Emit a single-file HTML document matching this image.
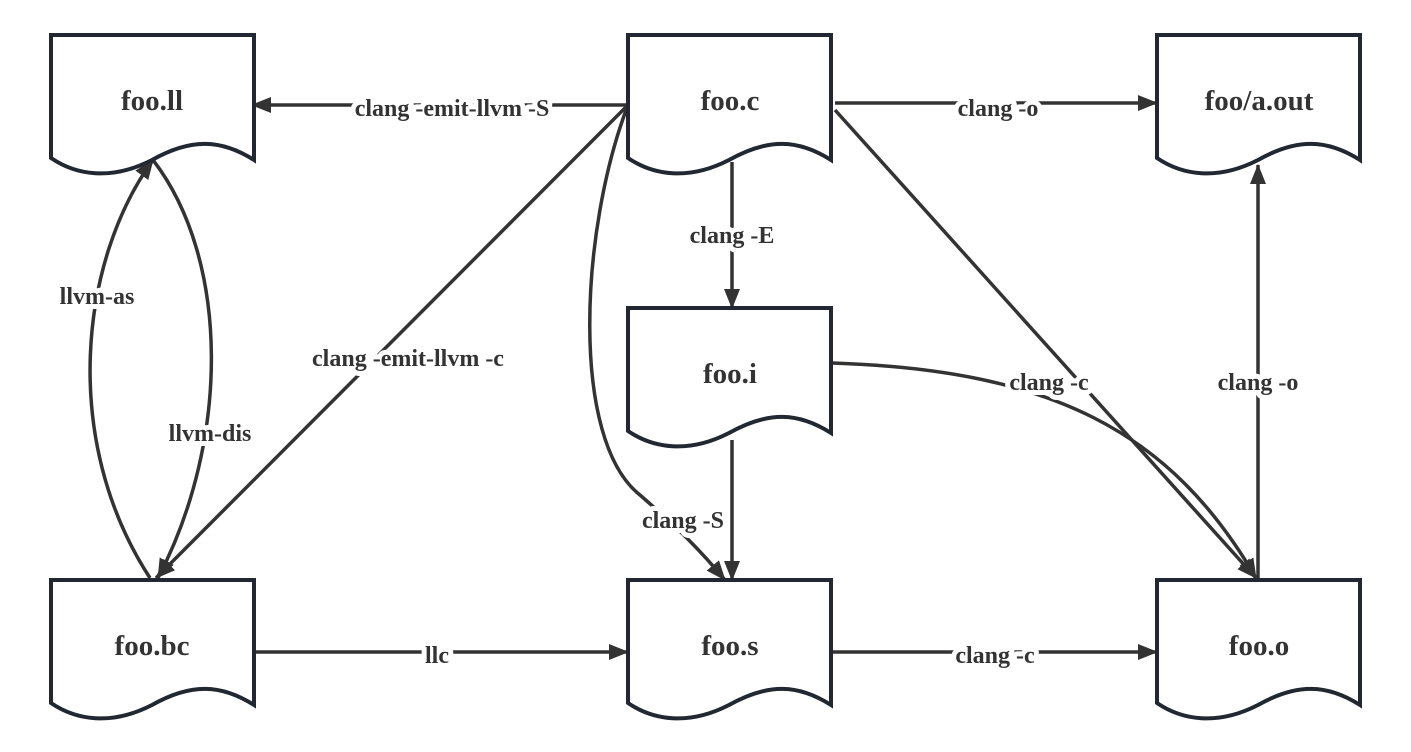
<!DOCTYPE html>
<html><head><meta charset="utf-8"><style>html,body{margin:0;padding:0;background:#fff}svg{display:block}</style></head>
<body>
<svg width="1411" height="752" viewBox="0 0 1411 752" xmlns="http://www.w3.org/2000/svg">
<defs>
<marker id="a" viewBox="0 0 20 16" refX="19" refY="8" markerWidth="20" markerHeight="16" markerUnits="userSpaceOnUse" orient="auto">
<path d="M0,0 L20,8 L0,16 Z" fill="#333"/>
</marker>
<path id="doc" d="M0,0 H203 V125 C170,104 140,103 101,125 C60,146 25,140 0,123 Z" fill="#fff" stroke="#222831" stroke-width="4"/>
</defs>
<g fill="none" stroke="#333" stroke-width="3.5">
<path d="M628,105 L252,105" marker-end="url(#a)"/>
<path d="M835,103 L1157,103" marker-end="url(#a)"/>
<path d="M732,162 L732,308" marker-end="url(#a)"/>
<path d="M628,105 L156,578" marker-end="url(#a)"/>
<path d="M628,105 C580,230 570,440 640,495 C680,530 700,550 725,580" marker-end="url(#a)"/>
<path d="M732,440 L732,580" marker-end="url(#a)"/>
<path d="M835,110 L1256,578" marker-end="url(#a)"/>
<path d="M832,363 C1050,370 1170,430 1256,578" marker-end="url(#a)"/>
<path d="M150,578 C60,440 80,260 153,160" marker-end="url(#a)"/>
<path d="M153,160 C230,260 230,440 158,578" marker-end="url(#a)"/>
<path d="M253,652 L628,652" marker-end="url(#a)"/>
<path d="M832,652 L1157,652" marker-end="url(#a)"/>
<path d="M1258,578 L1258,165" marker-end="url(#a)"/>
</g>
<use href="#doc" x="51" y="35"/>
<use href="#doc" x="628" y="35"/>
<use href="#doc" x="1157" y="35"/>
<use href="#doc" x="628" y="308"/>
<use href="#doc" x="51" y="580"/>
<use href="#doc" x="628" y="580"/>
<use href="#doc" x="1157" y="580"/>
<g font-family="Liberation Serif, serif" font-weight="bold" fill="#333" text-anchor="middle" font-size="29">
<text x="152" y="110">foo.ll</text>
<text x="730" y="110">foo.c</text>
<text x="1259" y="110">foo/a.out</text>
<text x="730" y="383">foo.i</text>
<text x="152" y="655">foo.bc</text>
<text x="730" y="655">foo.s</text>
<text x="1259" y="655">foo.o</text>
</g>
<g font-family="Liberation Serif, serif" font-weight="bold" fill="#333" text-anchor="middle" font-size="24" stroke="#fff" stroke-width="10" paint-order="stroke" stroke-linejoin="round">
<text x="452" y="116">clang -emit-llvm -S</text>
<text x="998" y="116">clang -o</text>
<text x="732" y="243">clang -E</text>
<text x="408" y="366">clang -emit-llvm -c</text>
<text x="683" y="528">clang -S</text>
<text x="1049" y="390">clang -c</text>
<text x="1258" y="390">clang -o</text>
<text x="97" y="304">llvm-as</text>
<text x="210" y="441">llvm-dis</text>
<text x="437" y="663">llc</text>
<text x="995" y="663">clang -c</text>
</g>
</svg>
</body></html>
